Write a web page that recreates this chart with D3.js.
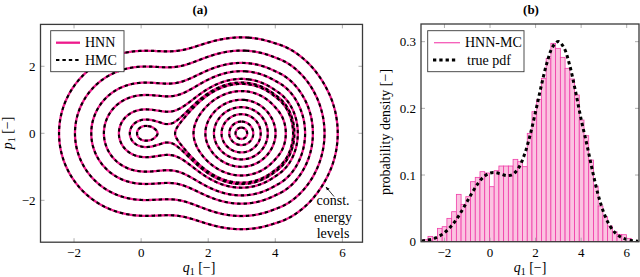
<!DOCTYPE html>
<html><head><meta charset="utf-8">
<script src="https://cdn.jsdelivr.net/npm/d3@7"></script>
<style>
body{margin:0;background:#fff}
svg{display:block}
text{font-family:"Liberation Serif","Times New Roman",serif;fill:#000}
</style>
</head><body>
<svg id="c" width="640" height="277"></svg>
<script>
// ---------------- data ----------------
// true pdf of q1 (read from panel b), sampled every 0.25
const pdfQ = [-3,-2.75,-2.5,-2.25,-2,-1.75,-1.5,-1.25,-1,-0.75,-0.5,-0.25,0,0.25,0.5,0.75,1,1.25,1.5,1.75,2,2.25,2.5,2.75,3,3.25,3.5,3.75,4,4.25,4.5,4.75,5,5.25,5.5,5.75,6,6.25,6.5];
const pdfTrue = [0.00111,0.00227,0.00438,0.00794,0.0135,0.02157,0.03239,0.0457,0.0606,0.07555,0.08867,0.09819,0.10306,0.10349,0.10117,0.09908,0.10098,0.11037,0.12952,0.15856,0.19498,0.23379,0.26843,0.29227,0.30032,0.29051,0.26427,0.22594,0.1835,0.146,0.106,0.07,0.043,0.0245,0.01315,0.00682,0.003324,0.001522,0.000654];
// constant energy levels H = -ln pdf(q1) + p1^2/2 drawn in panel a
const energyLevels = [1.2173,1.2642,1.3654,1.5071,1.7029,1.9967,2.29,2.35,2.52,2.92,3.41,4.25,5.30];
// HNN-MC histogram (density per bin)
const histStart = -2.93, histBinWidth = 0.2075;
const histDensity = [0.003,0.008,0.005,0.02,0.0225,0.035,0.045,0.071,0.056,0.0675,0.09,0.0965,0.105,0.103,0.0825,0.1065,0.1135,0.1135,0.1135,0.1235,0.12,0.1125,0.1625,0.195,0.2135,0.245,0.275,0.2975,0.29,0.2765,0.26,0.244,0.22,0.1825,0.159,0.1225,0.0835,0.0535,0.0375,0.0235,0.015,0.011,0.0105,0.005];
const xTicksA = [-2,0,2,4,6], yTicksA = [-2,0,2];
const xTicksB = [-2,0,2,4,6], yTicksB = [0,0.1,0.2,0.3];
const legendA = ["HNN","HMC"], legendB = ["HNN-MC","true pdf"];
const annotation = ["const.","energy","levels"];

// ---------------- styles ----------------
const MAG = "#ee1a8c", HFILL = "#fbc3e1", HSTROKE = "#f03ca8", FRAME = "#3a3a3a", TICK = "#9a9a9a";
const svg = d3.select("#c");
const fmt = v => (v < 0 ? "\u2212" : "") + Math.abs(v);

// ---------------- panel (a) ----------------
const xA = d3.scaleLinear().domain([-3, 6.6]).range([40.5, 362.5]);
const yA = d3.scaleLinear().domain([-3.25, 3.25]).range([242.2, 24.4]);

// smooth log-pdf interpolation (Catmull-Rom on the table)
const logP = pdfTrue.map(v => Math.log(v));
const dQ = pdfQ[1] - pdfQ[0];
function U(q) {
  let t = (q - pdfQ[0]) / dQ;
  const n = logP.length;
  if (t <= 0) return -(logP[0] + (logP[1] - logP[0]) * t);
  if (t >= n - 1) return -(logP[n-1] + (logP[n-1] - logP[n-2]) * (t - (n - 1)));
  const i = Math.floor(t), f = t - i;
  const p0 = logP[Math.max(0, i-1)], p1 = logP[i], p2 = logP[i+1], p3 = logP[Math.min(n-1, i+2)];
  const v = 0.5 * ((2*p1) + (-p0 + p2)*f + (2*p0 - 5*p1 + 4*p2 - p3)*f*f + (-p0 + 3*p1 - 3*p2 + p3)*f*f*f);
  return -v;
}
const gq0 = -3, gq1 = 6.6, gp0 = -3.25, gp1 = 3.25, gd = 0.015;
const nx = Math.round((gq1 - gq0) / gd) + 1, ny = Math.round((gp1 - gp0) / gd) + 1;
const Uq = new Float64Array(nx);
for (let i = 0; i < nx; i++) Uq[i] = U(gq0 + i * gd);
const vals = new Float64Array(nx * ny);
for (let j = 0; j < ny; j++) {
  const p = gp0 + j * gd;
  for (let i = 0; i < nx; i++) vals[i + j * nx] = -(Uq[i] + p * p / 2);
}
const contours = d3.contours().size([nx, ny]).thresholds(energyLevels.map(e => -e))(vals);
const proj = d3.geoTransform({
  point(x, y) { this.stream.point(xA(gq0 + (x - 0.5) * gd), yA(gp0 + (y - 0.5) * gd)); }
});
const path = d3.geoPath(proj);

svg.append("clipPath").attr("id", "clipA").append("rect")
  .attr("x", xA(-3)).attr("y", yA(3.25)).attr("width", xA(6.6) - xA(-3)).attr("height", yA(-3.25) - yA(3.25));
const gA = svg.append("g").attr("clip-path", "url(#clipA)");
gA.selectAll("path.hnn").data(contours).join("path").attr("class", "hnn")
  .attr("d", path).attr("fill", "none").attr("stroke", MAG).attr("stroke-width", 2.3);
gA.selectAll("path.hmc").data(contours).join("path").attr("class", "hmc")
  .attr("d", path).attr("fill", "none").attr("stroke", "#000").attr("stroke-width", 2.1)
  .attr("stroke-dasharray", "3.4,3");

function frame(x, y, ticksX, ticksY, fmtY) {
  const [x0, x1] = x.range(), [y0, y1] = y.range();
  const g = svg.append("g");
  ticksX.forEach(t => {
    g.append("line").attr("x1", x(t)).attr("x2", x(t)).attr("y1", y0).attr("y2", y0 - 4).attr("stroke", TICK).attr("stroke-width", 0.8);
    g.append("line").attr("x1", x(t)).attr("x2", x(t)).attr("y1", y1).attr("y2", y1 + 4).attr("stroke", TICK).attr("stroke-width", 0.8);
    g.append("text").attr("x", x(t)).attr("y", 256.5).attr("text-anchor", "middle").attr("font-size", 13).text(fmt(t));
  });
  ticksY.forEach(t => {
    g.append("line").attr("x1", x0).attr("x2", x0 + 4).attr("y1", y(t)).attr("y2", y(t)).attr("stroke", TICK).attr("stroke-width", 0.8);
    g.append("line").attr("x1", x1).attr("x2", x1 - 4).attr("y1", y(t)).attr("y2", y(t)).attr("stroke", TICK).attr("stroke-width", 0.8);
    g.append("text").attr("x", x0 - 5).attr("y", y(t) + 4.5).attr("text-anchor", "end").attr("font-size", 13).text(fmtY(t));
  });
  g.append("rect").attr("x", x0).attr("y", y1).attr("width", x1 - x0).attr("height", y0 - y1)
    .attr("fill", "none").attr("stroke", FRAME).attr("stroke-width", 1.3);
}
frame(xA, yA, xTicksA, yTicksA, fmt);

// legend (a)
const lgA = svg.append("g");
lgA.append("rect").attr("x", 50.7).attr("y", 30.7).attr("width", 73.3).attr("height", 41)
  .attr("fill", "#fff").attr("stroke", FRAME).attr("stroke-width", 0.9);
lgA.append("line").attr("x1", 56).attr("x2", 80).attr("y1", 42.7).attr("y2", 42.7).attr("stroke", MAG).attr("stroke-width", 2.3);
lgA.append("line").attr("x1", 56).attr("x2", 80).attr("y1", 60).attr("y2", 60).attr("stroke", "#000").attr("stroke-width", 2.1).attr("stroke-dasharray", "3.4,3");
lgA.append("text").attr("x", 85).attr("y", 47.2).attr("font-size", 14).text(legendA[0]);
lgA.append("text").attr("x", 85).attr("y", 64.8).attr("font-size", 14).text(legendA[1]);

// annotation
annotation.forEach((s, i) => svg.append("text").attr("x", 333).attr("y", [205, 221.5, 238][i])
  .attr("text-anchor", "middle").attr("font-size", 14).text(s));
svg.append("defs").append("marker").attr("id", "ah").attr("viewBox", "0 0 10 10").attr("refX", 9).attr("refY", 5)
  .attr("markerWidth", 5).attr("markerHeight", 5).attr("orient", "auto")
  .append("path").attr("d", "M0,1 L10,5 L0,9 z").attr("fill", "#000");
svg.append("line").attr("x1", 334).attr("y1", 196.5).attr("x2", 326).attr("y2", 187)
  .attr("stroke", "#000").attr("stroke-width", 0.8).attr("marker-end", "url(#ah)");

// titles and axis labels
svg.append("text").attr("x", 200).attr("y", 13.5).attr("text-anchor", "middle").attr("font-size", 13).attr("font-weight", "bold").text("(a)");
svg.append("text").attr("x", 531).attr("y", 13.5).attr("text-anchor", "middle").attr("font-size", 13).attr("font-weight", "bold").text("(b)");
function qLabel(cx, sym) {
  const t = svg.append("text").attr("x", cx).attr("y", 272).attr("text-anchor", "middle").attr("font-size", 14);
  t.append("tspan").attr("font-style", "italic").text(sym);
  t.append("tspan").attr("font-size", 10).attr("dy", 2.5).text("1");
  t.append("tspan").attr("dy", -2.5).text(" [\u2212]");
  return t;
}
qLabel(199, "q");
qLabel(530, "q");
{
  const t = svg.append("text").attr("transform", "translate(12,133) rotate(-90)").attr("text-anchor", "middle").attr("font-size", 14);
  t.append("tspan").attr("font-style", "italic").text("p");
  t.append("tspan").attr("font-size", 10).attr("dy", 2.5).text("1");
  t.append("tspan").attr("dy", -2.5).text(" [\u2212]");
}
svg.append("text").attr("transform", "translate(390,132) rotate(-90)").attr("text-anchor", "middle").attr("font-size", 14)
  .text("probability density [\u2212]");

// ---------------- panel (b) ----------------
const xB = d3.scaleLinear().domain([-3.03, 6.54]).range([421, 639]);
const yB = d3.scaleLinear().domain([0, 0.3265]).range([241.7, 24]);
svg.append("clipPath").attr("id", "clipB").append("rect")
  .attr("x", 421).attr("y", 24).attr("width", 218).attr("height", 217.7);
const gB = svg.append("g").attr("clip-path", "url(#clipB)");
gB.selectAll("rect.bar").data(histDensity).join("rect").attr("class", "bar")
  .attr("x", (d, i) => xB(histStart + i * histBinWidth))
  .attr("width", (d, i) => xB(histStart + (i + 1) * histBinWidth) - xB(histStart + i * histBinWidth))
  .attr("y", d => yB(d)).attr("height", d => yB(0) - yB(d))
  .attr("fill", HFILL).attr("stroke", HSTROKE).attr("stroke-width", 0.8);
gB.append("path").datum(pdfQ.map((q, i) => [q, pdfTrue[i]]))
  .attr("d", d3.line().x(d => xB(d[0])).y(d => yB(d[1])).curve(d3.curveCatmullRom))
  .attr("fill", "none").attr("stroke", "#000").attr("stroke-width", 3).attr("stroke-dasharray", "3.3,3");
frame(xB, yB, xTicksB, yTicksB, v => v === 0 ? "0" : String(v));

// legend (b)
const lgB = svg.append("g");
lgB.append("rect").attr("x", 427.7).attr("y", 30.7).attr("width", 96.3).attr("height", 41)
  .attr("fill", "#fff").attr("stroke", FRAME).attr("stroke-width", 0.9);
lgB.append("line").attr("x1", 434).attr("x2", 460).attr("y1", 42.7).attr("y2", 42.7).attr("stroke", "#f55ab8").attr("stroke-width", 1.3);
lgB.append("line").attr("x1", 433).attr("x2", 458).attr("y1", 60).attr("y2", 60).attr("stroke", "#000").attr("stroke-width", 3).attr("stroke-dasharray", "3.3,3");
lgB.append("text").attr("x", 465).attr("y", 47.2).attr("font-size", 14).text(legendB[0]);
lgB.append("text").attr("x", 467).attr("y", 64.8).attr("font-size", 14).text(legendB[1]);
</script>
</body></html>
